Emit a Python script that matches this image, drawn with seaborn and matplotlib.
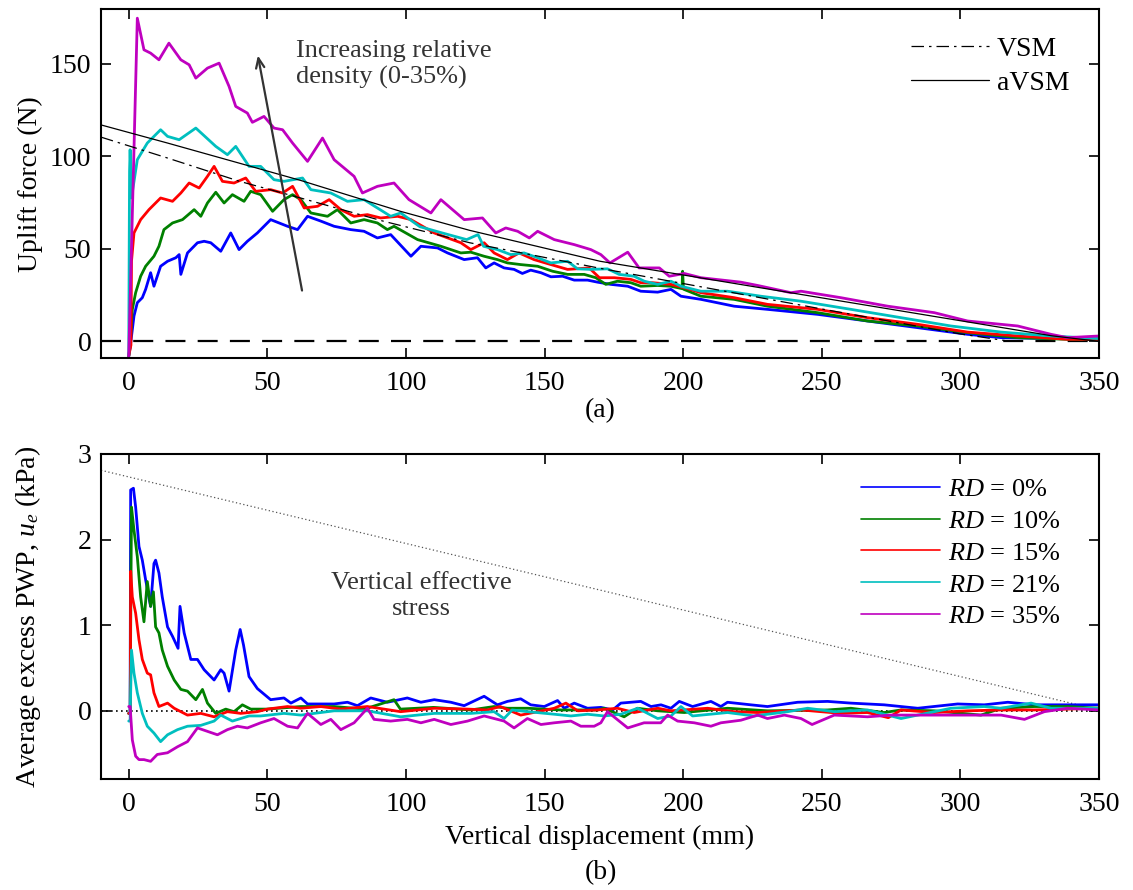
import matplotlib
matplotlib.use('Agg')
import numpy as np
import pandas as pd
import matplotlib.pyplot as plt
import seaborn as sns
from matplotlib.lines import Line2D

# ================================
# Data (displacement mm, value)
# ================================
rd_levels = ['0%', '10%', '15%', '21%', '35%']

# (a) uplift force (N)
force_rd0 = [(0, -8), (0.5, -3.4), (1.9, 13.7), (3.1, 20.9), (4.9, 23.6), (6.1, 28.1), (7.9, 37.1), (9.1, 29.8),
             (11.5, 40.6), (14, 43.3), (17, 45.2), (18.2, 46.9), (18.8, 36.2), (21.2, 47.8), (24.8, 53.3),
             (27.2, 54.1), (29.6, 53.3), (33.2, 48.7), (36.8, 58.6), (39.8, 49.6), (42.8, 54.1), (46.4, 58.6),
             (51.2, 65.8), (57.3, 62.2), (60.9, 60.4), (64.5, 67.6), (69.3, 65), (74.1, 62.2), (80.1, 60.4),
             (84.9, 59.5), (89.7, 55.9), (94.5, 57.7), (101.8, 46), (105.4, 51.4), (111.4, 50.5), (115, 47.8),
             (121, 44.2), (125.8, 45.2), (128.8, 39.7), (131.8, 42.4), (135.4, 39.7), (139, 38.9), (142, 36.7),
             (145, 38.5), (148.7, 37.1), (152.3, 34.9), (156.5, 35.2), (160.7, 33.1), (165.5, 33.1), (169.1, 32),
             (173.9, 30.8), (180, 29.8), (184.7, 27.1), (190.8, 26.6), (195.6, 28.1), (199.2, 24.4), (206.4, 22.7),
             (218.4, 19), (230.4, 17.3), (248.5, 14.6), (266.5, 11), (284.6, 7.4), (302.6, 3.8), (314.7, 2),
             (332.7, 1.5), (350, 1.5)]
force_rd10 = [(0, -8), (0.5, -2.5), (1.3, 17.3), (2.5, 26.3), (4.3, 35.2), (6.1, 40.6), (9.1, 46), (10.9, 51.4),
              (12.7, 60.4), (15.8, 64), (19.4, 65.8), (23.6, 71.2), (26, 67.6), (28.4, 74.8), (31.4, 80.6),
              (34.4, 74.8), (37.4, 79.3), (41.6, 75.7), (44, 81.1), (47.6, 79.3), (51.9, 70.3), (56, 76.6),
              (59.1, 79.3), (62.1, 76.6), (65.7, 69.4), (71.7, 67.6), (75.3, 71.2), (80.1, 64), (84.9, 65.8),
              (89.7, 64), (93.3, 60.4), (95.7, 62.2), (104.2, 55), (112.6, 51.4), (119.8, 47.8), (123.4, 48.2),
              (128.2, 46), (133, 44.2), (136.6, 42.4), (141.4, 41.5), (147.5, 40.6), (152.9, 37.9), (158.3, 36.2),
              (164.3, 36.2), (168.5, 34.4), (172.1, 30.8), (176.3, 32.5), (181.1, 31.7), (184.7, 29.8),
              (190.8, 30.2), (195.6, 29.8), (199.6, 28.5), (199.8, 37.9), (200.1, 28.2), (206.4, 24.4),
              (218.4, 22.7), (230.4, 19), (248.5, 15.5), (266.5, 11), (284.6, 8.3), (302.6, 4.7), (320.7, 2),
              (338.7, 1.1), (350, 1.1)]
force_rd15 = [(0, -8), (0.8, -2), (1, 43.3), (1.9, 58.6), (4.3, 65.8), (7.3, 71.2), (11.5, 77.5), (15.8, 75.7),
              (18.8, 80.2), (21.8, 85.6), (25.4, 82.9), (28.4, 89.2), (30.8, 94.6), (33.8, 86.5), (38, 85.6),
              (42.2, 88.3), (45.8, 81.1), (51.2, 82), (55.5, 80.2), (59.1, 83.8), (63.3, 72.1), (68.1, 73),
              (72.3, 76.6), (76.5, 71.2), (81.3, 67.6), (86.1, 68.5), (90.9, 66.7), (97, 67.6), (101.8, 65.8),
              (110.2, 58.6), (119.8, 53.3), (123.4, 49.6), (128.2, 53.3), (131.8, 47.8), (136.6, 44.2),
              (140.8, 47.8), (146.2, 44.2), (152.3, 41.5), (158.3, 38.9), (166.1, 39.7), (169.8, 34.4),
              (175.2, 34.4), (181.1, 33.5), (184.7, 31.7), (189, 31.7), (195.6, 30.8), (200.4, 29), (206.4, 26.3),
              (218.4, 23.6), (230.4, 20), (248.5, 17.3), (266.5, 12.8), (284.6, 9.2), (302.6, 5), (320.7, 2.9),
              (338.7, 1.1), (350, 1.1)]
force_rd21 = [(0, -8), (0.3, 92), (0.5, 103.6), (1, 77.5), (3.1, 98.2), (6.7, 107.2), (11.5, 114.4), (14, 110.8),
              (18.2, 109), (24.2, 115.3), (31.4, 105.4), (35.6, 100.9), (38.6, 105.4), (43.4, 94.6), (47.6, 94.6),
              (52.4, 87.4), (56, 86.5), (62.7, 88.3), (65.7, 82), (72.9, 80.2), (78.9, 75.7), (84.9, 76.6),
              (89.7, 72.1), (94.5, 67.6), (98.1, 69.4), (105, 62), (112.6, 58.8), (121.9, 55), (126, 57.7),
              (128, 51.4), (133, 49.6), (137.8, 46.9), (142.6, 47.8), (147.5, 45.2), (152.3, 42.4), (158.3, 43.3),
              (161.9, 39.2), (166.7, 38.9), (172.7, 39.2), (176.9, 36.2), (182.3, 35.2), (186, 32.5),
              (190.8, 30.8), (195.6, 32.5), (199.2, 29.8), (206.4, 27.1), (216, 27.1), (228, 24.4), (242.5, 21.7),
              (260.5, 17.3), (278.6, 12.8), (296.6, 8.3), (314.7, 5), (332.7, 2.9), (350, 1.5)]
force_rd35 = [(0, -8), (3.1, 174.7), (5.5, 157.6), (7.9, 155.8), (10.9, 152.2), (14.5, 161.2), (18.8, 152.2),
              (21.8, 149.5), (24.2, 142.3), (28.4, 147.7), (32.6, 150.4), (36.2, 137.8), (38.6, 127),
              (42.8, 123.4), (44.6, 118.4), (48.8, 121.6), (52.4, 115.3), (55.5, 114.4), (59.1, 107.2),
              (64.5, 97.3), (69.9, 109.9), (74.1, 98.2), (81.3, 89.2), (84.3, 80.2), (89.7, 83.8), (95.7, 85.6),
              (101.1, 76.6), (109, 69.4), (112.6, 76.6), (121, 65.8), (127.6, 66.7), (132.4, 58.6), (136, 61.3),
              (140.3, 59.5), (144.5, 55.9), (147.5, 59.5), (153.5, 55), (160.7, 52.3), (166.7, 49.6),
              (170.3, 46.9), (173.6, 42.4), (180, 48.2), (184.1, 39.7), (191.4, 39.7), (195, 35.2), (200.4, 36.7),
              (206.4, 34.4), (220.8, 32), (226.9, 30.2), (238.9, 26.3), (242.5, 27.1), (256.9, 23.6),
              (273.8, 19), (290.6, 15.5), (302.6, 11), (320.7, 8.3), (332.7, 3.8), (338.7, 2), (350, 2.9)]

vsm = [(-10, 110.4), (14, 99.1), (40, 86.5), (62, 77.5), (92, 64.9), (123, 53.3), (170, 39.5), (250, 17.5),
       (300, 4), (318, 0)]
avsm = [(-10, 117), (14, 107.2), (44, 94.6), (62, 87), (98, 70.3), (123, 60), (170, 43.3), (250, 23.5),
        (333, 3), (350, 0)]

# (b) average excess pore water pressure (kPa)
pwp_rd0 = [(0, -0.03), (0.5, -0.03), (0.7, 2.58), (1.7, 2.6), (2.5, 2.38), (3.7, 1.92), (4.9, 1.76), (6.1, 1.53),
           (7.9, 1.22), (9.1, 1.72), (9.7, 1.76), (10.9, 1.61), (12.1, 1.33), (14, 0.98), (15.8, 0.87),
           (17.8, 0.73), (18.5, 1.22), (20, 0.91), (22.4, 0.6), (24.8, 0.6), (27.2, 0.48), (30.8, 0.36),
           (33.2, 0.48), (34.4, 0.44), (36.2, 0.23), (38.6, 0.71), (40.2, 0.95), (41.4, 0.77), (43.4, 0.4),
           (46.4, 0.26), (51.2, 0.13), (56, 0.15), (58.5, 0.09), (62.1, 0.15), (64.5, 0.08), (74.1, 0.08),
           (78.9, 0.1), (82.5, 0.06), (87.3, 0.15), (93.3, 0.1), (100.5, 0.15), (105.4, 0.1), (110.2, 0.13),
           (116.2, 0.1), (121, 0.06), (128.2, 0.17), (133, 0.07), (136.6, 0.11), (141.4, 0.14), (145, 0.07),
           (149.9, 0.05), (154.7, 0.12), (157.1, 0.03), (160.7, 0.09), (165.5, 0.03), (170.3, 0.04),
           (174.6, 0.01), (177.5, 0.09), (181.1, 0.1), (184.7, 0.11), (188.4, 0.05), (192, 0.07), (195.6, 0.03),
           (198.6, 0.11), (203.4, 0.05), (210, 0.11), (213.6, 0.05), (216, 0.1), (224.4, 0.07), (230.4, 0.05),
           (241.3, 0.1), (252.1, 0.11), (260.5, 0.09), (272.5, 0.07), (284.6, 0.03), (299, 0.08), (308.6, 0.07),
           (317.1, 0.1), (326.7, 0.07), (338.7, 0.07), (350, 0.07)]
pwp_rd10 = [(0, -0.03), (0.5, -0.03), (1, 2.38), (1.9, 2.11), (3.1, 1.8), (4.3, 1.33), (5.5, 1.04), (6.7, 1.51),
            (7.9, 1.22), (8.9, 1.39), (9.7, 0.98), (10.9, 0.91), (12.1, 0.71), (14, 0.52), (16.4, 0.36),
            (18.8, 0.25), (21.2, 0.23), (24.2, 0.13), (26.6, 0.25), (28.4, 0.09), (31.4, -0.03), (35, 0.02),
            (38, -0.01), (41, 0.07), (44, 0.02), (50, 0.02), (62.1, 0.05), (74.1, 0.05), (85, 0.02),
            (95.7, 0.13), (98, 0.02), (110, 0.04), (123.4, 0.01), (131.8, 0.05), (136.6, 0.03), (143.8, 0.03),
            (155.9, 0.01), (169.1, 0.01), (171.5, 0.03), (178.7, -0.07), (183.5, 0.03), (190.8, 0),
            (200.4, -0.02), (216, 0.03), (230.4, 0), (252.1, 0.01), (260.5, 0.03), (272.5, -0.02), (278.6, 0.01),
            (290.6, 0), (307.4, -0.05), (314.7, 0.03), (326.7, 0.05), (338.7, 0.05), (350, 0.03)]
pwp_rd15 = [(0, -0.03), (0.6, -0.03), (0.7, 1.63), (1.3, 1.33), (2.5, 1.14), (3.7, 0.83), (4.9, 0.6), (6.7, 0.44),
            (7.9, 0.42), (9.1, 0.21), (10.9, 0.05), (14, 0.09), (16.4, 0.03), (21.2, -0.05), (26, -0.03),
            (30.8, -0.07), (35.6, -0.01), (40.4, -0.03), (46.4, -0.01), (50, 0.02), (57.3, 0.05), (62.1, 0.03),
            (69.3, 0.05), (76.5, 0.02), (86.1, 0.05), (98.1, -0.01), (110.2, 0.03), (122.2, 0.02), (129.4, 0.01),
            (134, 0.05), (141.4, -0.05), (147.5, -0.01), (153.5, 0.03), (157.7, 0.09), (162, 0), (169.1, 0.01),
            (176.3, 0.03), (182.3, -0.02), (190.8, 0.03), (195.6, 0), (208.8, 0.03), (218.4, -0.01),
            (226.9, -0.02), (242.5, 0.01), (256.9, -0.03), (266.5, -0.02), (274, -0.08), (278.6, 0.01),
            (290.6, -0.02), (302.6, 0), (314.7, 0.01), (326.7, 0.01), (350, 0.03)]
pwp_rd21 = [(0, -0.12), (0.5, -0.12), (1, 0.71), (1.9, 0.44), (3.1, 0.21), (4.9, -0.03), (6.7, -0.18), (9.1, -0.26),
            (11.5, -0.36), (14, -0.28), (17.6, -0.22), (21.2, -0.18), (26, -0.17), (30.8, -0.12), (33.2, -0.05),
            (37.4, -0.12), (43.4, -0.06), (47.6, -0.06), (56, -0.03), (62.1, -0.05), (74.1, 0), (86.1, 0),
            (98.1, -0.07), (110.2, -0.03), (123.4, -0.03), (131.8, -0.01), (135.4, -0.09), (138.3, 0.01),
            (144, -0.01), (153.5, -0.04), (159.5, -0.06), (165.5, -0.04), (171.5, -0.06), (177.5, -0.04),
            (183.6, 0.03), (190.8, -0.09), (195.6, -0.06), (199.2, 0.05), (203.4, -0.06), (216, -0.02),
            (225.6, -0.06), (237.7, -0.01), (244.9, 0.03), (254.5, -0.01), (266.5, 0.01), (278.6, -0.09),
            (290.6, -0.01), (296.6, 0.03), (308.6, 0.05), (314.7, 0.03), (325.5, 0.09), (332.7, 0.03), (350, 0.03)]
pwp_rd35 = [(0, 0.05), (0.5, 0.05), (1.3, -0.34), (2.5, -0.53), (3.7, -0.57), (5.5, -0.57), (7.9, -0.59),
            (10.3, -0.51), (14, -0.49), (17.6, -0.42), (21.2, -0.36), (24.8, -0.2), (28.4, -0.24), (32, -0.28),
            (35.6, -0.22), (39.2, -0.18), (42.8, -0.2), (47.6, -0.14), (52.4, -0.09), (57.3, -0.18),
            (60.9, -0.2), (64.5, -0.03), (69.3, -0.16), (72.9, -0.1), (76.5, -0.22), (81.3, -0.14), (86.1, 0.03),
            (88.5, -0.1), (94.5, -0.12), (100.5, -0.1), (105.4, -0.14), (110.2, -0.1), (116.2, -0.16),
            (122.2, -0.12), (128.2, -0.06), (135.4, -0.12), (139, -0.2), (143.8, -0.09), (148.7, -0.16),
            (153.5, -0.14), (159.5, -0.12), (163.1, -0.18), (167.9, -0.18), (170.3, -0.14), (172.7, -0.01),
            (180, -0.2), (185.9, -0.14), (191.9, -0.14), (194.4, -0.05), (198, -0.12), (204, -0.14), (210, -0.18),
            (213.6, -0.14), (220.8, -0.11), (226.9, -0.05), (230.4, -0.09), (236.5, -0.05), (242.5, -0.09),
            (246.5, -0.16), (254.5, -0.05), (266.5, -0.07), (274.9, -0.05), (290.6, -0.05), (302.6, -0.05),
            (314.7, -0.05), (323.1, -0.1), (330.3, -0.01), (338.7, 0.03), (350, 0.01)]

effective_stress = [(-10, 2.81), (345, 0.05)]

# ================================
# Build long-form tables
# ================================
def to_frame(series_list):
    rows = []
    for rd, pts in zip(rd_levels, series_list):
        for x, y in pts:
            rows.append((x, y, rd))
    return pd.DataFrame(rows, columns=['disp', 'value', 'RD'])

force_df = to_frame([force_rd0, force_rd10, force_rd15, force_rd21, force_rd35])
pwp_df = to_frame([pwp_rd0, pwp_rd10, pwp_rd15, pwp_rd21, pwp_rd35])
vsm_df = pd.DataFrame(vsm, columns=['disp', 'value'])
avsm_df = pd.DataFrame(avsm, columns=['disp', 'value'])
stress_df = pd.DataFrame(effective_stress, columns=['disp', 'value'])

palette = {'0%': (0, 0, 1), '10%': (0, 0.5, 0), '15%': (1, 0, 0),
           '21%': (0, 0.75, 0.75), '35%': (0.75, 0, 0.75)}

# ================================
# Style
# ================================
sns.set_style('ticks')
plt.rcParams['font.family'] = ['Liberation Serif', 'DejaVu Serif']
plt.rcParams['mathtext.fontset'] = 'custom'
plt.rcParams['mathtext.rm'] = 'Liberation Serif'
plt.rcParams['mathtext.it'] = 'Liberation Serif:italic'
for key in ['text.color', 'axes.labelcolor', 'xtick.color', 'ytick.color', 'axes.edgecolor']:
    plt.rcParams[key] = 'black'
FS = 20

fig = plt.figure(figsize=(11.33, 8.90), dpi=100)
ax1 = fig.add_axes([101 / 1133, 1 - 358 / 890, 998 / 1133, 348.7 / 890])
ax2 = fig.add_axes([101 / 1133, 1 - 779.3 / 890, 998 / 1133, 325.3 / 890])

for ax in (ax1, ax2):
    ax.set_xlim(-10, 350)
    ax.set_xticks(np.arange(0, 351, 50))
    ax.tick_params(direction='in', top=True, right=True, length=7, width=1.2, labelsize=FS)
    ax.tick_params(axis='x', pad=9)
    ax.tick_params(axis='y', pad=7)
    for s in ax.spines.values():
        s.set_linewidth(1.5)

# ---- (a) uplift force ----
ax1.axhline(0, color='black', lw=1.6, dashes=(9, 5.5))
sns.lineplot(data=force_df, x='disp', y='value', hue='RD', hue_order=rd_levels, palette=palette,
             estimator=None, sort=False, lw=2.0, legend=False, ax=ax1)
ax1.plot(vsm_df['disp'], vsm_df['value'], color='black', lw=0.9, dashes=(10, 4, 2, 4))
ax1.plot(avsm_df['disp'], avsm_df['value'], color='black', lw=0.9)
ax1.set_ylim(-9, 179.5)
ax1.set_yticks([0, 50, 100, 150])
ax1.set_ylabel('Uplift force (N)', fontsize=FS)
ax1.set_xlabel('(a)', fontsize=FS, labelpad=2)
ax1.yaxis.set_label_coords(-0.058, 0.5)

ax1.annotate('', xy=(46.4, 156), xytext=(62.7, 26),
             arrowprops=dict(arrowstyle='->,head_length=0.7,head_width=0.3', color='#333333', lw=1.6))
ax1.text(60.5, 149.5, 'Increasing relative\ndensity (0-35%)', fontsize=19, color='#333333',
         ha='left', va='center', linespacing=1.2)

theory_handles = [Line2D([], [], color='black', lw=0.9, dashes=(10, 4, 2, 4)),
                  Line2D([], [], color='black', lw=0.9)]
ax1.legend(theory_handles, ['VSM', 'aVSM'], loc='upper right', frameon=False, fontsize=FS,
           handlelength=2.8, handletextpad=0.3, labelspacing=0.3, borderaxespad=0.3,
           bbox_to_anchor=(0.99, 0.978))

# ---- (b) excess pore pressure ----
ax2.axhline(0, color='black', lw=1.2, ls=(0, (1, 2)))
ax2.plot(stress_df['disp'], stress_df['value'], color='#555555', lw=0.9, ls=(0, (1, 2)))
sns.lineplot(data=pwp_df, x='disp', y='value', hue='RD', hue_order=rd_levels, palette=palette,
             estimator=None, sort=False, lw=2.0, legend=False, ax=ax2)
ax2.set_ylim(-0.8, 3)
ax2.set_yticks([0, 1, 2, 3])
ax2.set_ylabel('Average excess PWP, $u_e$ (kPa)', fontsize=FS)
ax2.set_xlabel('Vertical displacement (mm)', fontsize=FS, labelpad=6)
ax2.yaxis.set_label_coords(-0.058, 0.5)
ax2.text(105.4, 1.34, 'Vertical effective\nstress', fontsize=19, color='#333333',
         ha='center', va='center', linespacing=1.2)

rd_handles = [Line2D([], [], color=palette[k], lw=1.2) for k in rd_levels]
ax2.legend(rd_handles, ['$RD$ = ' + k for k in rd_levels], loc='upper right', frameon=False, fontsize=19,
           handlelength=3.0, handletextpad=0.3, labelspacing=0.32, borderaxespad=0.3,
           bbox_to_anchor=(0.98, 0.985))

fig.text(601 / 1133, 1 - 873 / 890, '(b)', fontsize=FS, ha='center', va='center')

fig.savefig('out.png', dpi=100)
